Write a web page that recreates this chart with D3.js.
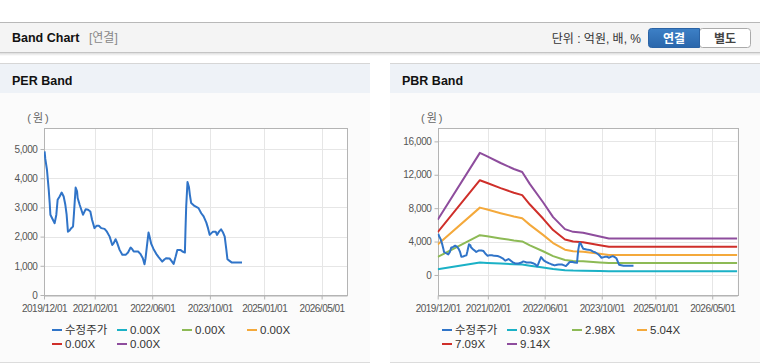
<!DOCTYPE html>
<html><head><meta charset="utf-8">
<script src="https://cdn.jsdelivr.net/npm/d3@7"></script>
<style>
body{margin:0;background:#fff}
svg{display:block;font-family:"Liberation Sans","Noto Sans CJK KR",sans-serif}
</style>
</head><body>
<svg id="c" width="760" height="364"></svg>
<script>
// ---------- data ----------
const priceDates = ["2019-12-06","2019-12-12","2019-12-26","2020-01-10","2020-01-18","2020-01-24","2020-02-15","2020-02-29","2020-03-14","2020-03-25","2020-04-11","2020-04-28","2020-05-15","2020-05-29","2020-06-09","2020-06-20","2020-07-04","2020-07-18","2020-08-02","2020-08-10","2020-08-24","2020-09-05","2020-09-10","2020-09-27","2020-10-11","2020-10-25","2020-11-17","2020-12-07","2020-12-26","2021-01-10","2021-01-30","2021-02-16","2021-03-08","2021-03-28","2021-04-25","2021-05-15","2021-06-07","2021-06-29","2021-07-10","2021-07-27","2021-08-08","2021-08-30","2021-09-22","2021-10-20","2021-11-09","2021-12-01","2021-12-15","2021-12-27","2022-02-02","2022-02-21","2022-03-14","2022-03-28","2022-04-06","2022-04-17","2022-05-01","2022-05-10","2022-05-24","2022-06-13","2022-07-05","2022-07-27","2022-08-25","2022-09-14","2022-09-28","2022-10-26","2022-11-09","2022-11-29","2022-12-16","2022-12-30","2023-01-25","2023-02-11","2023-03-04","2023-03-09","2023-03-15","2023-03-26","2023-04-07","2023-04-15","2023-04-26","2023-05-24","2023-06-27","2023-07-20","2023-08-09","2023-09-01","2023-09-15","2023-09-29","2023-10-27","2023-11-19","2023-11-30","2023-12-17","2024-01-03","2024-01-20","2024-02-03","2024-02-17","2024-02-26","2024-03-15","2024-04-04","2024-06-28"];
const priceValues = [4920,4660,4290,3600,3150,2750,2570,2460,2750,3260,3375,3510,3375,3090,2750,2170,2210,2290,2345,2800,3680,3550,3320,3090,2920,2750,2940,2920,2860,2570,2290,2370,2370,2290,2265,2170,2000,1715,1770,1910,1800,1545,1375,1375,1455,1625,1570,1490,1490,1410,1260,1050,1260,1660,2140,2000,1750,1570,1410,1290,1145,1225,1260,1250,1180,1065,1315,1545,1545,1490,1455,2230,3030,3870,3700,3430,3150,3050,2975,2800,2690,2480,2290,2060,2170,2170,2060,2170,2250,2140,2000,1545,1225,1170,1110,1110];

const bandDates = ["2019-12-01","2020-11-25","2021-01-27","2021-05-21","2021-09-11","2021-11-21","2022-01-26","2022-05-18","2022-08-12","2022-11-21","2023-01-30","2023-04-25","2023-09-15","2023-12-01","2026-12-01"];
const band093 = [672,1488,1445,1364,1291,1255,1107,886,705,558,525,514,468,444,444];
const band298 = [2155,4768,4631,4372,4136,4020,3546,2840,2259,1788,1684,1648,1499,1421,1421];
const band504 = [3644,8064,7832,7394,6996,6799,5998,4803,3820,3024,2848,2787,2535,2404,2404];
const band709 = [5126,11344,11018,10401,9841,9564,8437,6757,5374,4254,4006,3921,3566,3382,3382];
const band914 = [6608,14624,14204,13408,12686,12330,10877,8710,6928,5484,5164,5054,4597,4360,4360];

const xTickLabels = ["2019/12/01","2021/02/01","2022/06/01","2023/10/01","2025/01/01","2026/05/01"];
const xDomain = ["2019-12-01","2026-12-01"];
const perYTicks = [0,1000,2000,3000,4000,5000];
const pbrYTicks = [0,4000,8000,12000,16000];
const perLegend = ["수정주가","0.00X","0.00X","0.00X","0.00X","0.00X"];
const pbrLegend = ["수정주가","0.93X","2.98X","5.04X","7.09X","9.14X"];
const seriesColors = ["#3074c8","#1bb1c6","#8dba55","#f4a93b","#cf2f2a","#8e4d9d"];

// ---------- drawing ----------
const svg = d3.select("#c");
const parse = d3.timeParse("%Y-%m-%d");
const parseTick = d3.timeParse("%Y/%m/%d");

// top bar
svg.append("rect").attr("x",0).attr("y",22).attr("width",760).attr("height",30).attr("fill","#f4f4f4");
svg.append("line").attr("x1",0).attr("x2",760).attr("y1",22.5).attr("y2",22.5).attr("stroke","#b8b8b8");
svg.append("line").attr("x1",0).attr("x2",760).attr("y1",52.5).attr("y2",52.5).attr("stroke","#c4c4c4");
const sh = svg.append("defs").append("linearGradient").attr("id","sh").attr("x1",0).attr("x2",0).attr("y1",0).attr("y2",1);
sh.append("stop").attr("offset",0).attr("stop-color","#ddd");
sh.append("stop").attr("offset",1).attr("stop-color","#fff");
svg.append("rect").attr("x",0).attr("y",53).attr("width",760).attr("height",3).attr("fill","url(#sh)");
svg.append("text").attr("x",12).attr("y",42).attr("font-size",12.5).attr("font-weight","bold").attr("fill","#111").text("Band Chart");
svg.append("text").attr("x",89).attr("y",42).attr("font-size",12).attr("fill","#888").text("[연결]");
svg.append("text").attr("x",641).attr("y",43).attr("text-anchor","end").attr("font-size",12).attr("fill","#333").text("단위 : 억원, 배, %");
// buttons
svg.append("rect").attr("x",699.5).attr("y",28.5).attr("width",51).attr("height",19).attr("rx",3).attr("fill","#fff").attr("stroke","#aaa");
const bg = svg.select("defs").append("linearGradient").attr("id","bb").attr("x1",0).attr("x2",0).attr("y1",0).attr("y2",1);
bg.append("stop").attr("offset",0).attr("stop-color","#3d80c6");
bg.append("stop").attr("offset",1).attr("stop-color","#2a66ab");
svg.append("path").attr("d","M699.5,28.5 H651.5 Q648.5,28.5 648.5,31.5 V44.5 Q648.5,47.5 651.5,47.5 H699.5 Z").attr("fill","url(#bb)").attr("stroke","#2b63a5");
svg.append("text").attr("x",674).attr("y",42.5).attr("text-anchor","middle").attr("font-size",12).attr("font-weight","bold").attr("fill","#fff").text("연결");
svg.append("text").attr("x",725).attr("y",42.5).attr("text-anchor","middle").attr("font-size",12).attr("font-weight","bold").attr("fill","#444").text("별도");

function drawPanel(px, title, plot, yDomain, yTicks, lines, legend) {
  const g = svg.append("g").attr("transform",`translate(${px},0)`);
  const w = 370;
  g.append("rect").attr("x",0).attr("y",64).attr("width",w).attr("height",298).attr("fill","#fbfbfb");
  g.append("rect").attr("x",0).attr("y",64).attr("width",w).attr("height",29).attr("fill","#eef2f7");
  g.append("line").attr("x1",0).attr("x2",w).attr("y1",63.5).attr("y2",63.5).attr("stroke","#d6d6d6");
  g.append("line").attr("x1",0).attr("x2",w).attr("y1",362.5).attr("y2",362.5).attr("stroke","#dcdcdc");
  g.append("text").attr("x",12).attr("y",85).attr("font-size",12.5).attr("font-weight","bold").attr("fill","#111").text(title);

  const x = d3.scaleTime().domain(xDomain.map(parse)).range([plot.l, plot.r]);
  const y = d3.scaleLinear().domain(yDomain).range([plot.b, plot.t]);
  const xt = xTickLabels.map(parseTick);

  g.append("rect").attr("x",plot.l).attr("y",plot.t).attr("width",plot.r-plot.l).attr("height",plot.b-plot.t).attr("fill","#fff");
  // grid
  g.append("g").selectAll("line").data(yTicks).join("line")
    .attr("x1",plot.l).attr("x2",plot.r).attr("y1",d=>Math.round(y(d))+0.5).attr("y2",d=>Math.round(y(d))+0.5).attr("stroke","#e6e6e6");
  g.append("g").selectAll("line").data(xt).join("line")
    .attr("x1",d=>Math.round(x(d))+0.5).attr("x2",d=>Math.round(x(d))+0.5).attr("y1",plot.t).attr("y2",plot.b).attr("stroke","#e6e6e6");
  // border
  g.append("rect").attr("x",Math.round(plot.l)+0.5).attr("y",plot.t+0.5).attr("width",Math.round(plot.r-plot.l)).attr("height",plot.b-plot.t).attr("fill","none").attr("stroke","#b4b4b4");

  // axes
  const xa = g.append("g").attr("transform",`translate(0,${plot.b+0.5})`)
    .call(d3.axisBottom(x).tickValues(xt).tickFormat(d3.timeFormat("%Y/%m/%d")).tickSize(4).tickSizeOuter(0));
  xa.select(".domain").attr("stroke","#b4b4b4");
  xa.selectAll(".tick line").attr("stroke","#b4b4b4");
  xa.selectAll("text").attr("font-size",10).attr("fill","#555").attr("letter-spacing","-0.5px").attr("dy","0.9em").attr("font-family","inherit");
  const ya = g.append("g").attr("transform",`translate(${Math.round(plot.l)+0.5},0)`)
    .call(d3.axisLeft(y).tickValues(yTicks).tickFormat(d3.format(",d")).tickSize(4).tickSizeOuter(0));
  ya.select(".domain").remove();
  ya.selectAll(".tick line").attr("stroke","#b4b4b4");
  ya.selectAll("text").attr("font-size",10).attr("fill","#555").attr("letter-spacing","-0.4px").attr("font-family","inherit").attr("x",-7);
  g.append("text").attr("x",plot.l-5).attr("y",122).attr("text-anchor","middle").attr("font-size",11).attr("letter-spacing","2px").attr("fill","#666").text("(원)");

  // lines
  const clip = "clip"+px;
  g.append("clipPath").attr("id",clip).append("rect").attr("x",plot.l).attr("y",plot.t).attr("width",plot.r-plot.l).attr("height",plot.b-plot.t);
  const lg = g.append("g").attr("clip-path",`url(#${clip})`);
  const line = d3.line().x(d=>x(d[0])).y(d=>y(d[1]));
  lines.forEach((s,i) => {
    if (!s.values.length) return;
    const pts = s.dates.map((d,k)=>[parse(d), s.values[k]]);
    lg.append("path").datum(pts).attr("d",line).attr("fill","none")
      .attr("stroke",seriesColors[s.c]).attr("stroke-width",2).attr("stroke-linejoin","round");
  });

  // legend
  const lgd = g.append("g");
  legend.forEach((t,i) => {
    const col = i % 4, row = Math.floor(i/4);
    const lx = 52 + col*65, ly = 330 + row*14;
    lgd.append("line").attr("x1",lx).attr("x2",lx+10).attr("y1",ly).attr("y2",ly).attr("stroke",seriesColors[i]).attr("stroke-width",2);
    lgd.append("text").attr("x",lx+13).attr("y",ly+4).attr("font-size",11.5).attr("fill","#333").text(t);
  });
}

drawPanel(0, "PER Band", {l:44, r:347, t:128, b:295}, [0,5720], perYTicks,
  [{dates:[],values:[],c:1},{dates:[],values:[],c:2},{dates:[],values:[],c:3},{dates:[],values:[],c:4},{dates:[],values:[],c:5},
   {dates:priceDates,values:priceValues,c:0}], perLegend);

drawPanel(390, "PBR Band", {l:47.7, r:347.3, t:128, b:295}, [-2400,17600], pbrYTicks,
  [{dates:bandDates,values:band914,c:5},{dates:bandDates,values:band709,c:4},{dates:bandDates,values:band504,c:3},
   {dates:bandDates,values:band298,c:2},{dates:bandDates,values:band093,c:1},
   {dates:priceDates,values:priceValues,c:0}], pbrLegend);
</script>
</body></html>
